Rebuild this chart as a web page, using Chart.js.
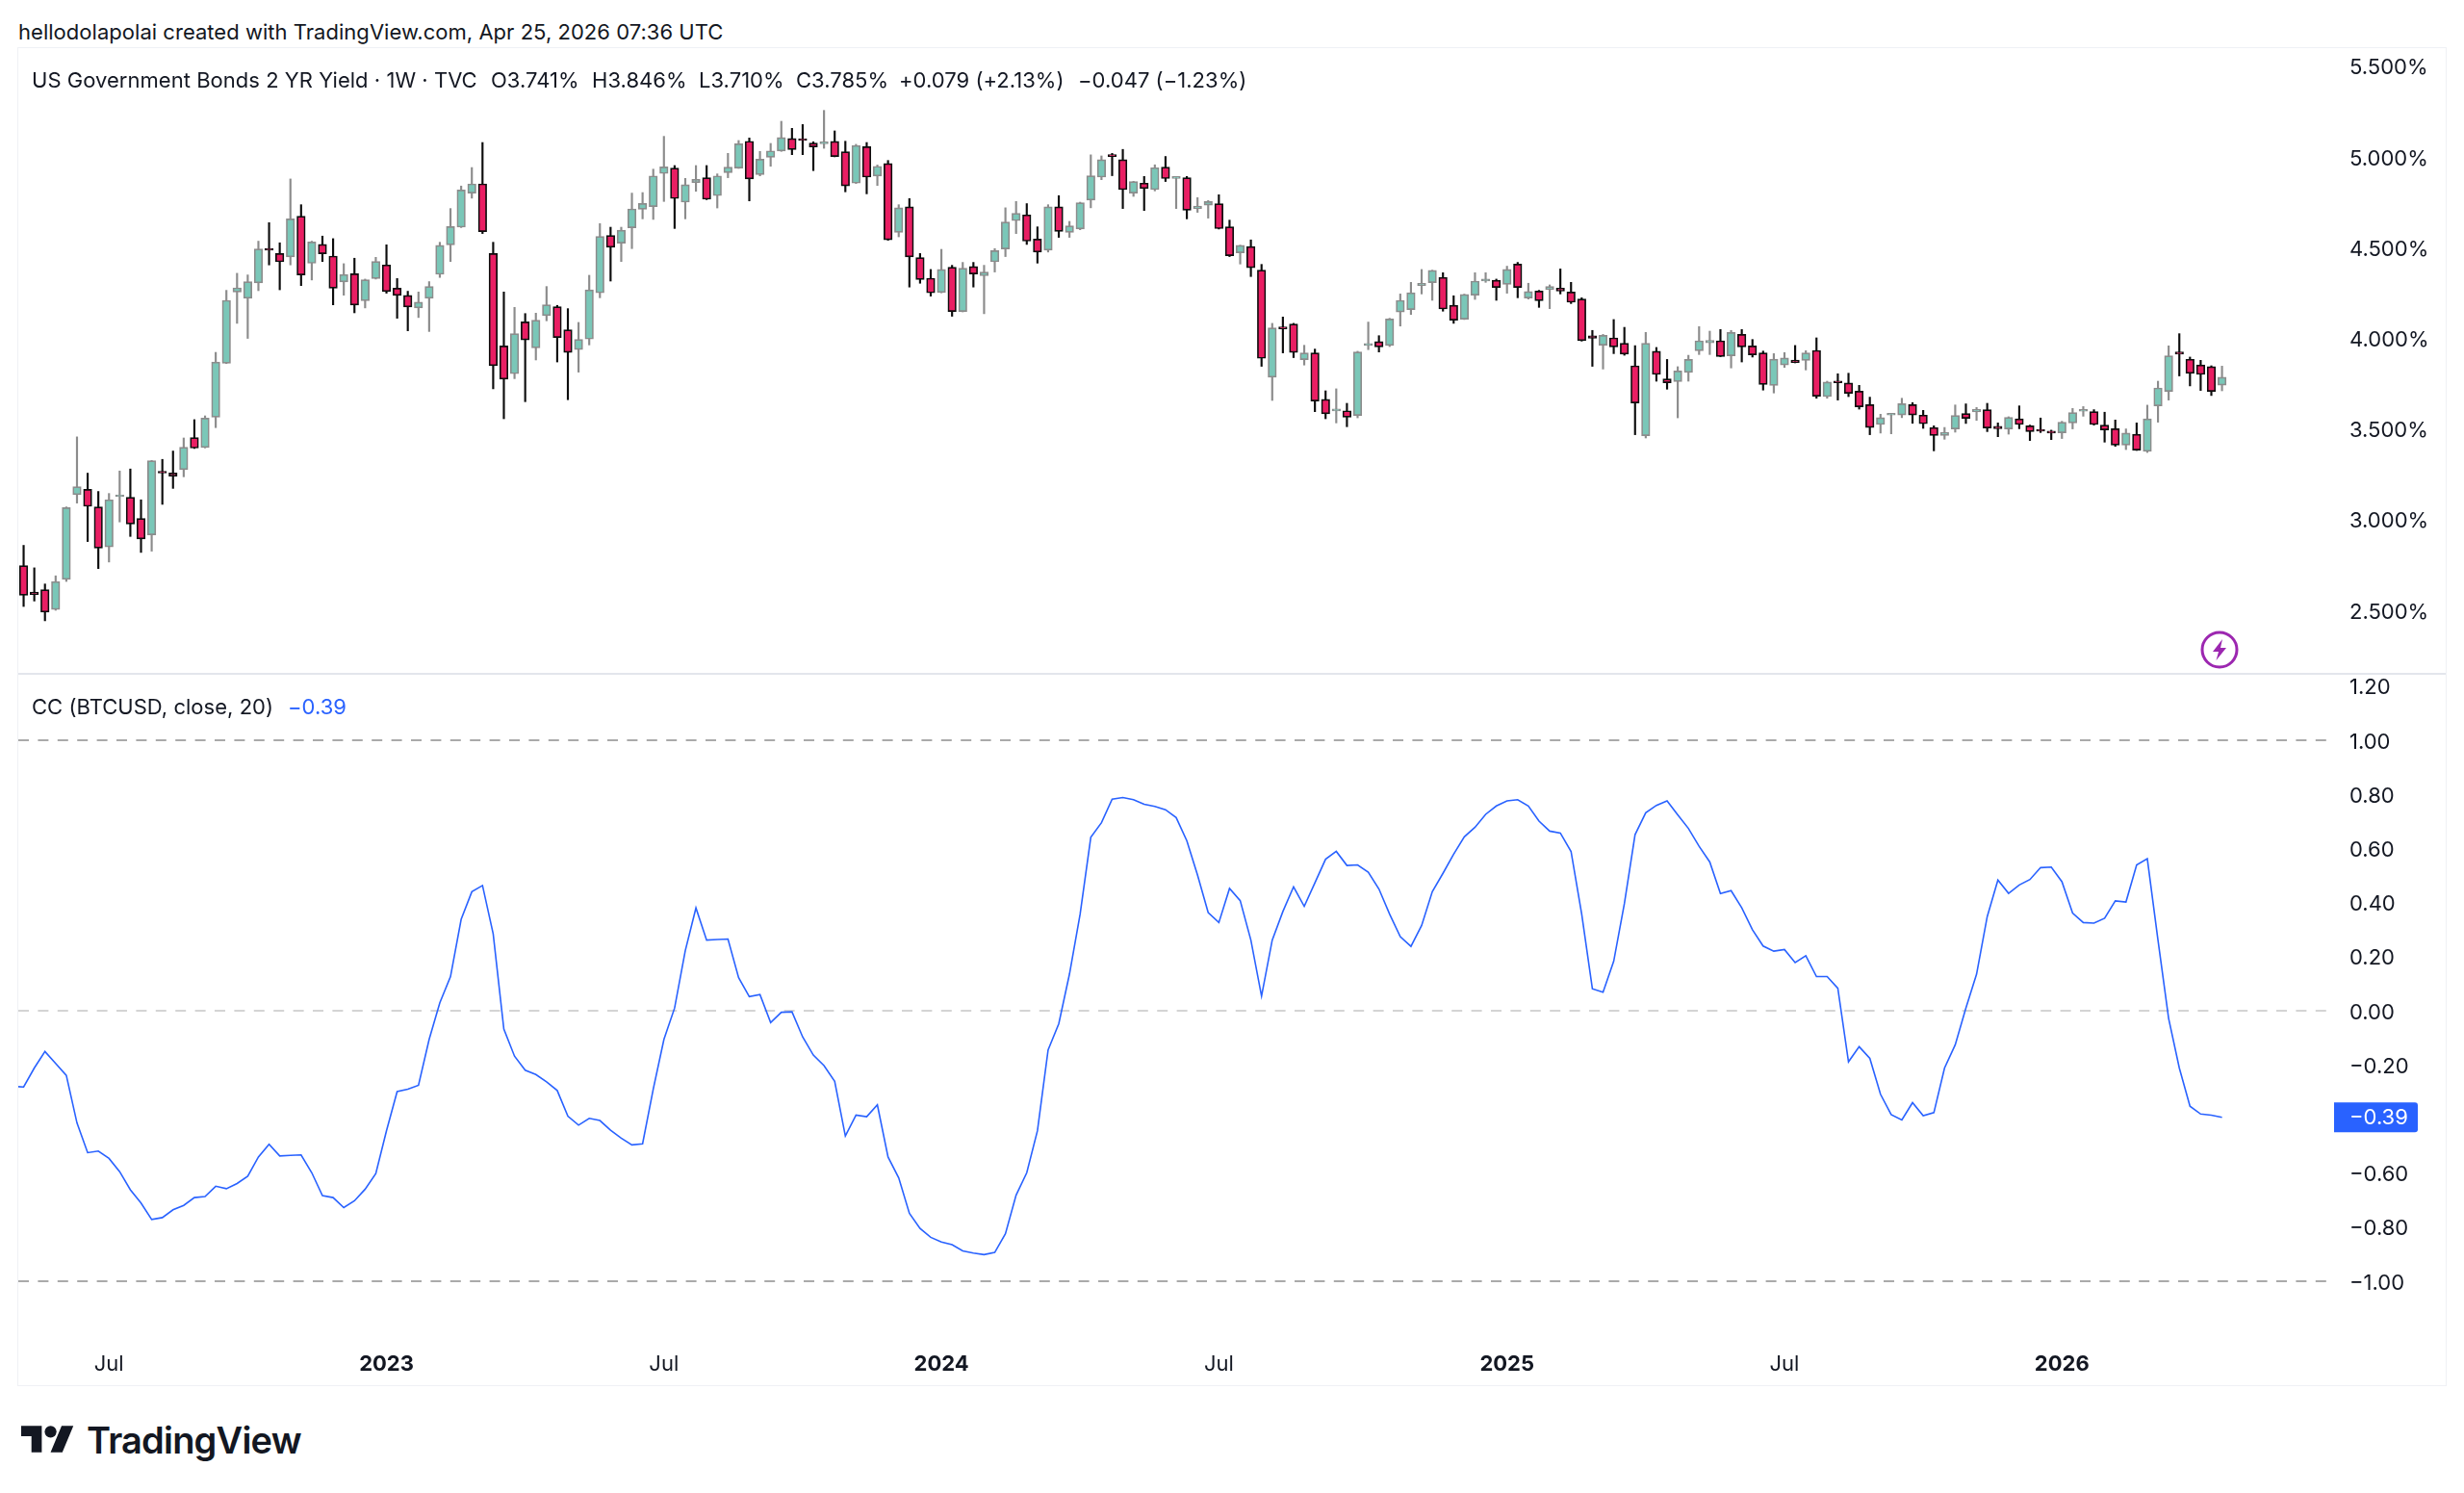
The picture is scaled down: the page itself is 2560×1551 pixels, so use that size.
<!DOCTYPE html>
<html>
<head>
<meta charset="utf-8">
<title>US02Y vs CC BTCUSD</title>
<script src="https://cdn.jsdelivr.net/npm/chart.js@4"></script>
<style>
  html, body { margin: 0; padding: 0; background: #fff; }
  body { width: 2560px; height: 1551px; position: relative; overflow: hidden; font-family: Inter, sans-serif; color: #131722; }
  .abs { position: absolute; white-space: nowrap; }
  .txt { font-size: 22px; line-height: 28px; letter-spacing: 0.03px; }
  #frame { position: absolute; left: 18px; top: 49px; width: 2522px; height: 1389px; border: 1.5px solid #eff1f5; }
  #divider { position: absolute; left: 19px; top: 698.5px; width: 2522px; height: 2px; background: #e3e6ec; }
  canvas { position: absolute; display: block; }
</style>
</head>
<body>
<div class="abs txt" style="left:19px;top:19px">hellodolapolai created with TradingView.com, Apr 25, 2026 07:36 UTC</div>
<div id="frame"></div>
<div id="divider"></div>
<canvas id="priceChart" width="2522" height="648" style="left:19px;top:51px"></canvas>
<canvas id="ccChart" width="2522" height="738" style="left:19px;top:701px"></canvas>

<div class="abs txt" style="left:33px;top:69px">US Government Bonds 2 YR Yield · 1W · TVC</div>
<div class="abs txt" style="left:510px;top:69px">O3.741%</div>
<div class="abs txt" style="left:615px;top:69px">H3.846%</div>
<div class="abs txt" style="left:726px;top:69px">L3.710%</div>
<div class="abs txt" style="left:827px;top:69px">C3.785%</div>
<div class="abs txt" style="left:934px;top:69px">+0.079 (+2.13%)</div>
<div class="abs txt" style="left:1120px;top:69px">−0.047 (−1.23%)</div>
<div class="abs txt" style="left:33px;top:720px">CC (BTCUSD, close, 20)</div>
<div class="abs txt" style="left:299px;top:720px;color:#2962ff">−0.39</div>

<svg class="abs" style="left:2286px;top:655px" width="40" height="40" viewBox="0 0 40 40">
  <circle cx="20" cy="20" r="18" fill="none" stroke="#9c27b0" stroke-width="3"/>
  <path d="M23 9 L13 22 H19 L16.5 31 L27 18 H21 Z" fill="#9c27b0"/>
</svg>

<svg class="abs" style="left:22px;top:1475px" width="55" height="43" viewBox="0 0 36 28">
  <path fill="#131722" d="M14 22H7V11H0V4h14v18zM28 22h-8l7.5-18h8L28 22z"/>
  <circle fill="#131722" cx="20" cy="8" r="4"/>
</svg>
<div class="abs" style="left:90px;top:1472px;font-size:38px;line-height:48px;font-weight:600;letter-spacing:-0.8px;color:#131722">TradingView</div>

<script>
// weekly bars, 2022-05-09 .. 2026-04-20
const opens = [
  2.746,2.601,2.613,2.504,2.670,3.137,3.167,3.070,2.849,3.126,
  3.123,3.006,2.916,3.263,3.257,3.275,3.452,3.397,3.565,3.862,
  4.255,4.220,4.305,4.492,4.467,4.448,4.673,4.413,4.517,4.453,
  4.310,4.356,4.207,4.329,4.404,4.276,4.236,4.167,4.220,4.352,
  4.515,4.612,4.800,4.851,4.467,3.958,3.804,4.090,3.947,4.124,
  4.174,4.046,3.937,3.995,4.250,4.566,4.524,4.609,4.711,4.725,
  4.908,4.938,4.750,4.858,4.885,4.786,4.913,4.938,5.086,4.902,
  4.998,5.032,5.101,5.095,5.076,5.072,5.085,5.028,4.855,5.056,
  4.894,4.963,4.584,4.724,4.444,4.331,4.252,4.391,4.147,4.395,
  4.344,4.421,4.492,4.648,4.680,4.547,4.485,4.724,4.584,4.602,
  4.761,4.888,5.009,4.984,4.800,4.855,4.819,4.943,4.881,4.885,
  4.715,4.733,4.742,4.614,4.471,4.506,4.375,3.785,4.059,4.078,
  3.882,3.919,3.663,3.599,3.600,3.574,3.960,3.981,3.960,4.144,
  4.158,4.290,4.306,4.335,4.182,4.105,4.237,4.315,4.320,4.297,
  4.409,4.221,4.260,4.267,4.276,4.255,4.216,4.014,3.961,4.002,
  3.972,3.848,3.462,3.928,3.776,3.761,3.811,3.931,3.975,3.986,
  3.903,4.021,3.958,3.919,3.740,3.852,3.880,3.878,3.933,3.678,
  3.758,3.753,3.708,3.634,3.524,3.576,3.577,3.634,3.576,3.507,
  3.464,3.500,3.585,3.593,3.606,3.514,3.500,3.556,3.517,3.493,
  3.485,3.478,3.533,3.597,3.595,3.521,3.501,3.411,3.471,3.376,
  3.627,3.707,3.924,3.884,3.853,3.843,3.741
];
const highs = [
  2.858,2.734,2.645,2.690,3.070,3.456,3.256,3.155,3.144,3.268,
  3.279,3.109,3.326,3.332,3.378,3.450,3.551,3.572,3.922,4.264,
  4.358,4.349,4.535,4.637,4.526,4.878,4.736,4.535,4.563,4.549,
  4.411,4.441,4.326,4.446,4.515,4.329,4.259,4.255,4.312,4.529,
  4.715,4.839,4.941,5.079,4.529,4.255,4.170,4.136,4.138,4.285,
  4.181,4.163,4.087,4.347,4.632,4.612,4.612,4.800,4.803,4.932,
  5.113,4.952,4.881,4.952,4.952,4.906,5.019,5.090,5.104,5.030,
  5.074,5.196,5.157,5.178,5.083,5.256,5.143,5.086,5.069,5.079,
  4.955,4.980,4.736,4.770,4.467,4.379,4.490,4.402,4.418,4.418,
  4.402,4.494,4.719,4.754,4.742,4.614,4.736,4.786,4.644,4.750,
  5.011,5.005,5.019,5.041,4.865,4.892,4.956,5.002,4.887,4.892,
  4.775,4.759,4.791,4.651,4.513,4.542,4.407,4.082,4.117,4.082,
  3.961,3.940,3.710,3.721,3.641,3.928,4.089,4.014,4.110,4.244,
  4.308,4.379,4.375,4.361,4.234,4.243,4.361,4.361,4.326,4.397,
  4.418,4.303,4.264,4.294,4.382,4.308,4.223,4.043,4.021,4.103,
  4.060,3.959,4.032,3.949,3.883,3.843,3.906,4.064,4.039,4.048,
  4.043,4.048,3.993,3.929,3.915,3.921,3.960,3.931,4.002,3.763,
  3.804,3.807,3.740,3.675,3.581,3.586,3.669,3.645,3.602,3.517,
  3.508,3.632,3.638,3.618,3.641,3.533,3.567,3.627,3.521,3.560,
  3.493,3.542,3.613,3.623,3.606,3.592,3.549,3.500,3.533,3.631,
  3.763,3.958,4.025,3.896,3.878,3.848,3.846
];
const lows = [
  2.521,2.551,2.442,2.500,2.659,3.091,2.879,2.730,2.766,2.987,
  2.907,2.819,2.826,3.084,3.172,3.236,3.392,3.395,3.507,3.860,
  4.082,3.999,4.262,4.404,4.267,4.404,4.290,4.321,4.423,4.184,
  4.237,4.140,4.167,4.326,4.248,4.110,4.041,4.114,4.037,4.335,
  4.423,4.610,4.772,4.577,3.721,3.556,3.777,3.650,3.880,4.096,
  3.869,3.661,3.813,3.963,4.223,4.315,4.423,4.494,4.658,4.655,
  4.754,4.605,4.658,4.810,4.764,4.718,4.885,4.936,4.757,4.895,
  4.948,5.030,5.012,5.012,4.924,5.047,5.000,4.807,4.853,4.796,
  4.842,4.540,4.559,4.282,4.303,4.232,4.250,4.121,4.145,4.282,
  4.135,4.365,4.450,4.577,4.517,4.414,4.475,4.556,4.556,4.598,
  4.719,4.874,4.896,4.715,4.782,4.704,4.812,4.864,4.715,4.658,
  4.694,4.662,4.602,4.450,4.409,4.340,3.845,3.657,3.919,3.893,
  3.852,3.595,3.556,3.533,3.512,3.561,3.937,3.924,3.954,4.067,
  4.131,4.244,4.209,4.149,4.082,4.103,4.214,4.308,4.209,4.248,
  4.223,4.216,4.170,4.163,4.244,4.191,3.984,3.845,3.830,3.915,
  3.906,3.468,3.450,3.763,3.719,3.561,3.763,3.910,3.910,3.898,
  3.836,3.869,3.896,3.714,3.698,3.839,3.864,3.825,3.669,3.669,
  3.659,3.678,3.609,3.468,3.477,3.473,3.562,3.531,3.503,3.379,
  3.443,3.482,3.530,3.547,3.485,3.457,3.471,3.501,3.436,3.480,
  3.441,3.447,3.500,3.570,3.521,3.427,3.404,3.386,3.381,3.370,
  3.537,3.659,3.792,3.737,3.712,3.684,3.710
];
const closes = [
  2.583,2.587,2.490,2.658,3.066,3.181,3.073,2.843,3.109,3.130,
  2.976,2.893,3.325,3.256,3.240,3.399,3.394,3.560,3.869,4.209,
  4.278,4.312,4.492,4.485,4.421,4.658,4.349,4.531,4.466,4.276,
  4.351,4.183,4.322,4.423,4.257,4.236,4.172,4.199,4.285,4.512,
  4.616,4.817,4.851,4.588,3.848,3.774,4.025,3.990,4.099,4.184,
  4.004,3.922,3.993,4.267,4.561,4.501,4.596,4.713,4.743,4.895,
  4.945,4.770,4.846,4.876,4.766,4.895,4.943,5.072,4.878,4.987,
  5.033,5.106,5.040,5.090,5.055,5.078,5.001,4.840,5.062,4.888,
  4.948,4.542,4.719,4.448,4.324,4.250,4.379,4.147,4.386,4.354,
  4.365,4.483,4.641,4.689,4.535,4.475,4.724,4.589,4.620,4.747,
  4.896,4.984,5.002,4.819,4.864,4.825,4.940,4.880,4.885,4.706,
  4.729,4.754,4.604,4.455,4.512,4.388,3.889,4.057,4.052,3.921,
  3.919,3.654,3.583,3.602,3.565,3.924,3.965,3.952,4.106,4.209,
  4.251,4.303,4.374,4.161,4.099,4.241,4.315,4.326,4.280,4.379,
  4.280,4.257,4.207,4.285,4.260,4.198,3.986,4.000,4.016,3.952,
  3.912,3.643,3.972,3.800,3.754,3.820,3.883,3.986,3.988,3.899,
  4.032,3.952,3.908,3.745,3.885,3.891,3.866,3.919,3.680,3.758,
  3.754,3.696,3.622,3.508,3.562,3.579,3.639,3.577,3.528,3.464,
  3.482,3.574,3.558,3.608,3.505,3.501,3.563,3.524,3.485,3.487,
  3.477,3.537,3.590,3.600,3.524,3.494,3.411,3.477,3.383,3.556,
  3.726,3.903,3.912,3.806,3.800,3.707,3.785
];
// CC line, one value per week; the first one is the week before the visible window
const ccValues = [
  -0.280,
  -0.282,-0.212,-0.151,-0.195,-0.239,-0.415,-0.525,-0.519,-0.546,-0.595,
  -0.662,-0.711,-0.772,-0.765,-0.736,-0.720,-0.691,-0.687,-0.649,-0.658,
  -0.639,-0.612,-0.541,-0.494,-0.537,-0.535,-0.533,-0.599,-0.684,-0.691,
  -0.728,-0.703,-0.660,-0.602,-0.444,-0.299,-0.290,-0.276,-0.106,0.029,
  0.126,0.338,0.440,0.463,0.284,-0.068,-0.168,-0.220,-0.236,-0.263,
  -0.295,-0.390,-0.423,-0.398,-0.406,-0.442,-0.471,-0.496,-0.492,-0.290,
  -0.106,0.010,0.222,0.380,0.261,0.263,0.265,0.122,0.052,0.060,
  -0.044,-0.006,-0.004,-0.097,-0.164,-0.203,-0.261,-0.463,-0.386,-0.392,
  -0.348,-0.541,-0.618,-0.749,-0.805,-0.838,-0.855,-0.865,-0.888,-0.896,
  -0.902,-0.894,-0.825,-0.682,-0.599,-0.444,-0.145,-0.048,0.135,0.357,
  0.641,0.695,0.782,0.788,0.780,0.763,0.755,0.743,0.714,0.628,
  0.502,0.363,0.326,0.452,0.407,0.261,0.054,0.261,0.367,0.458,
  0.386,0.473,0.560,0.589,0.537,0.539,0.512,0.450,0.357,0.274,
  0.238,0.315,0.440,0.508,0.579,0.643,0.678,0.726,0.757,0.776,
  0.780,0.757,0.701,0.664,0.657,0.589,0.357,0.081,0.068,0.183,
  0.396,0.651,0.732,0.759,0.776,0.724,0.674,0.608,0.550,0.433,
  0.444,0.380,0.299,0.239,0.220,0.226,0.178,0.203,0.126,0.126,
  0.083,-0.189,-0.133,-0.176,-0.309,-0.384,-0.404,-0.340,-0.388,-0.377,
  -0.212,-0.126,0.010,0.135,0.348,0.483,0.434,0.465,0.485,0.529,
  0.531,0.477,0.361,0.326,0.324,0.342,0.406,0.402,0.539,0.562,
  0.261,-0.029,-0.212,-0.353,-0.382,-0.386,-0.394
];

const priceTicks = [2.5, 3, 3.5, 4, 4.5, 5, 5.5];
const ccTicks = [-1, -0.8, -0.6, -0.2, 0, 0.2, 0.4, 0.6, 0.8, 1, 1.2];
const ccLevels = [1, 0, -1];
const timeTickWeeks = ['2022-07-04','2023-01-02','2023-07-03','2024-01-01','2024-07-01','2025-01-06','2025-07-07','2026-01-05'];
const timeTickLabels = ['Jul','2023','Jul','2024','Jul','2025','Jul','2026'];

const UP_FILL = '#7ac7b8', UP_LINE = '#8c8c8c', DOWN_FILL = '#e91e63', DOWN_LINE = '#0d0d0d';
const BLUE = '#2962ff';
const AXIS_FONT = { family: 'Inter, sans-serif', size: 22 };

// week axis: one leading week for the line stub, then blank weeks after the last bar
const weeks = [];
for (let d = Date.UTC(2022, 4, 2), n = 0; n < 218; n++, d += 7 * 864e5) {
    weeks.push(new Date(d).toISOString().slice(0, 10));
}
const isUp = (o, i) => closes[i] >= o;
const withLead = arr => [null].concat(arr);

const fmtMinus = s => s.replace('-', '\u2212');

function yAxis(min, max, ticks, fmt) {
    return {
        position: 'right', min, max,
        grid: { display: false }, border: { display: false },
        // chart.js reserves room for the end labels, which shrinks the pane
        afterFit: s => { s.width = 116; s.paddingTop = 0; s.paddingBottom = 0; },
        afterBuildTicks: s => { s.ticks = ticks.map(v => ({ value: v })); },
        ticks: { padding: 8, labelOffset: 2, color: '#131722', font: AXIS_FONT, callback: fmt }
    };
}

new Chart(document.getElementById('priceChart'), {
    data: {
        labels: weeks,
        datasets: [
            {
                type: 'bar', order: 1, grouped: false, barThickness: 8.6, minBarLength: 2,
                borderWidth: 1.7, borderSkipped: false,
                data: withLead(opens.map((o, i) => [o, closes[i]])),
                backgroundColor: withLead(opens.map((o, i) => isUp(o, i) ? UP_FILL : DOWN_FILL)),
                borderColor: withLead(opens.map((o, i) => isUp(o, i) ? UP_LINE : DOWN_LINE))
            },
            {
                type: 'bar', order: 2, grouped: false, barThickness: 1.5, borderWidth: 0,
                data: withLead(lows.map((l, i) => [l, highs[i]])),
                backgroundColor: withLead(opens.map((o, i) => isUp(o, i) ? UP_LINE : DOWN_LINE))
            }
        ]
    },
    options: {
        responsive: false, animation: false, devicePixelRatio: 1,
        layout: { padding: 0 },
        plugins: { legend: { display: false }, tooltip: { enabled: false } },
        scales: {
            x: { min: weeks[1], display: false, offset: true, grid: { display: false } },
            y: yAxis(2.155, 5.594, priceTicks, v => v.toFixed(3) + '%')
        }
    }
});

const ccOverlay = {
    id: 'ccOverlay',
    beforeDatasetsDraw(chart) {
        const { ctx, chartArea: a, scales: { y } } = chart;
        ctx.save();
        ccLevels.forEach(v => {
            ctx.beginPath();
            ctx.setLineDash([11, 9.4]);
            ctx.lineWidth = 1.6;
            ctx.strokeStyle = v === 0 ? '#c6c6c6' : '#8e8e8e';
            const py = y.getPixelForValue(v);
            ctx.moveTo(a.left, py);
            ctx.lineTo(a.right, py);
            ctx.stroke();
        });
        ctx.restore();
    },
    afterDraw(chart) {
        const { ctx, chartArea: a, scales: { y } } = chart;
        const last = ccValues[ccValues.length - 1];
        const py = y.getPixelForValue(last);
        ctx.save();
        ctx.fillStyle = BLUE;
        ctx.beginPath();
        ctx.roundRect(a.right, py - 15.5, 87, 31, [0, 3, 3, 0]);
        ctx.fill();
        ctx.fillStyle = '#fff';
        ctx.font = '22px Inter, sans-serif';
        ctx.textBaseline = 'middle';
        ctx.fillText(fmtMinus(last.toFixed(2)), a.right + 16, py + 1);
        ctx.restore();
    }
};

new Chart(document.getElementById('ccChart'), {
    type: 'line',
    data: {
        labels: weeks,
        datasets: [{
            data: ccValues, borderColor: BLUE, borderWidth: 1.6,
            pointRadius: 0, tension: 0, fill: false
        }]
    },
    options: {
        responsive: false, animation: false, devicePixelRatio: 1,
        layout: { padding: 0 },
        plugins: { legend: { display: false }, tooltip: { enabled: false } },
        scales: {
            x: {
                min: weeks[1], offset: true,
                grid: { display: false }, border: { display: false },
                afterFit: s => { s.height = 44; s.paddingLeft = 0; s.paddingRight = 0; },
                afterBuildTicks: s => { s.ticks = timeTickWeeks.map(w => ({ value: weeks.indexOf(w) })); },
                ticks: {
                    autoSkip: false, maxRotation: 0, padding: 1, color: '#131722',
                    callback: (v, i) => timeTickLabels[i],
                    font: c => ({ ...AXIS_FONT, weight: /^20/.test(timeTickLabels[c.index]) ? '700' : '400' })
                }
            },
            y: yAxis(-1.228, 1.242, ccTicks, v => fmtMinus(v.toFixed(2)))
        }
    },
    plugins: [ccOverlay]
});
</script>
</body>
</html>
